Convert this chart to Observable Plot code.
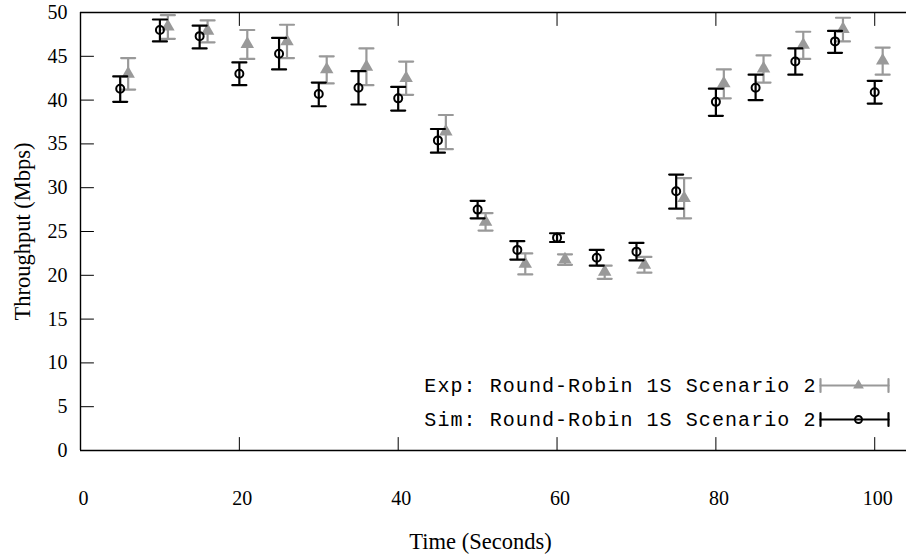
<!DOCTYPE html>
<html>
<head>
<meta charset="utf-8">
<script src="https://cdn.jsdelivr.net/npm/d3@7"></script>
<script src="https://cdn.jsdelivr.net/npm/@observablehq/plot@0.6"></script>
<style>
  html, body { margin: 0; padding: 0; background: #fff; }
  svg { display: block; }
</style>
</head>
<body>
<div id="chart"></div>
<script>
// Simulation: Round-Robin 1S Scenario 2 (x = 5..100)
const simTime = [5, 10, 15, 20, 25, 30, 35, 40, 45, 50, 55, 60, 65, 70, 75, 80, 85, 90, 95, 100];
const simValue = [41.3, 48.0, 47.3, 43.0, 45.3, 40.7, 41.4, 40.2, 35.4, 27.5, 22.9, 24.3, 22.0, 22.7, 29.6, 39.8, 41.4, 44.4, 46.7, 40.9];
const simLow   = [39.8, 46.7, 45.9, 41.7, 43.5, 39.3, 39.5, 38.8, 34.0, 26.5, 21.8, 23.8, 21.1, 21.7, 27.6, 38.2, 40.0, 42.9, 45.4, 39.6];
const simHigh  = [42.7, 49.2, 48.5, 44.3, 47.1, 42.0, 43.3, 41.5, 36.7, 28.5, 23.9, 24.8, 22.9, 23.7, 31.5, 41.3, 42.9, 45.9, 47.9, 42.2];

// Experiment: Round-Robin 1S Scenario 2 (x = 6..101)
const expTime = [6, 11, 16, 21, 26, 31, 36, 41, 46, 51, 56, 61, 66, 71, 76, 81, 86, 91, 96, 101];
const expValue = [43.0, 48.4, 47.9, 46.4, 46.7, 43.5, 43.8, 42.5, 36.4, 26.1, 21.3, 21.8, 20.4, 21.2, 28.8, 41.9, 43.6, 46.3, 48.1, 44.5];
const expLow   = [41.2, 47.0, 46.6, 44.7, 44.8, 41.9, 41.7, 40.6, 34.4, 25.1, 20.1, 21.2, 19.6, 20.3, 26.5, 40.2, 42.0, 44.7, 46.7, 42.9];
const expHigh  = [44.8, 49.7, 49.1, 48.0, 48.6, 45.0, 45.9, 44.4, 38.3, 27.1, 22.5, 22.4, 21.1, 22.1, 31.1, 43.5, 45.1, 47.8, 49.4, 46.0];

const xTicks = [0, 20, 40, 60, 80, 100];
const yTicks = [0, 5, 10, 15, 20, 25, 30, 35, 40, 45, 50];

const expLabel = "Exp: Round-Robin 1S Scenario 2";
const simLabel = "Sim: Round-Robin 1S Scenario 2";
const xLabel = "Time (Seconds)";
const yLabel = "Throughput (Mbps)";

const sim = simTime.map((t, i) => ({t, v: simValue[i], lo: simLow[i], hi: simHigh[i]}));
const exp = expTime.map((t, i) => ({t, v: expValue[i], lo: expLow[i], hi: expHigh[i]}));

const GRAY = "#999999";
const BLACK = "#000000";
const serif = "'Liberation Serif', 'Times New Roman', serif";
const mono = "'Liberation Mono', 'DejaVu Sans Mono', monospace";

// a straight line shape for vectors
const lineShape = { draw(ctx, l) { ctx.moveTo(0, 0); ctx.lineTo(0, -l); } };

function errorMarks(data, color) {
  return [
    Plot.ruleX(data, {x: "t", y1: "lo", y2: "hi", stroke: color, strokeWidth: 2.2}),
    Plot.vector(data, {x: "t", y: "lo", rotate: 90, length: 14, anchor: "middle", shape: lineShape, stroke: color, strokeWidth: 2.2}),
    Plot.vector(data, {x: "t", y: "hi", rotate: 90, length: 14, anchor: "middle", shape: lineShape, stroke: color, strokeWidth: 2.2})
  ];
}

function legendEntry(label, color, dy, markerOpts) {
  const base = {frameAnchor: "bottom-right", dy, shape: lineShape, stroke: color, strokeWidth: 2.2};
  return [
    Plot.text([label], {frameAnchor: "bottom-right", dx: -90, dy, text: d => d, textAnchor: "end", lineAnchor: "middle",
      fontFamily: mono, fontSize: 20, fill: BLACK}),
    Plot.vector([label], {...base, dx: -86, rotate: 90, length: 68, anchor: "start"}),
    Plot.vector([label], {...base, dx: -86, rotate: 0, length: 13, anchor: "middle"}),
    Plot.vector([label], {...base, dx: -18, rotate: 0, length: 13, anchor: "middle"}),
    Plot.dot([label], {frameAnchor: "bottom-right", dx: -48, dy, ...markerOpts})
  ];
}

const chart = Plot.plot({
  width: 906,
  height: 559,
  marginLeft: 80,
  marginRight: 0,
  marginTop: 12,
  marginBottom: 109,
  x: {domain: [0, 104], axis: null},
  y: {domain: [0, 50], axis: null},
  style: {background: "#fff", overflow: "visible"},
  marks: [
    // ticks (inward, mirrored)
    Plot.vector(xTicks.slice(1), {x: d => d, frameAnchor: "bottom", rotate: 0, length: 13, anchor: "start", shape: lineShape, stroke: BLACK, strokeWidth: 1}),
    Plot.vector(xTicks.slice(1), {x: d => d, frameAnchor: "top", rotate: 180, length: 13, anchor: "start", shape: lineShape, stroke: BLACK, strokeWidth: 1}),
    Plot.vector(yTicks.slice(1, -1), {y: d => d, frameAnchor: "left", rotate: 90, length: 13, anchor: "start", shape: lineShape, stroke: BLACK, strokeWidth: 1}),
    // frame (left, bottom, top; right edge lies outside the picture)
    Plot.ruleY([yTicks[0], yTicks[yTicks.length - 1]], {stroke: BLACK, strokeWidth: 1.4}),
    Plot.ruleX([xTicks[0]], {stroke: BLACK, strokeWidth: 1.4}),
    // tick labels
    Plot.text(xTicks, {x: d => d, frameAnchor: "bottom", dy: 48, dx: 3, text: d => String(d), fontFamily: serif, fontSize: 20, textAnchor: "middle", lineAnchor: "middle", fill: BLACK}),
    Plot.text(yTicks, {y: d => d, frameAnchor: "left", dx: -13, text: d => String(d), textAnchor: "end", fontFamily: serif, fontSize: 20, lineAnchor: "middle", fill: BLACK}),
    // axis titles
    Plot.text([xLabel], {frameAnchor: "bottom", dx: -13, dy: 91, text: d => d, fontFamily: serif, fontSize: 22.5, textAnchor: "middle", lineAnchor: "middle", fill: BLACK}),
    Plot.text([yLabel], {frameAnchor: "left", dx: -58, rotate: -90, text: d => d, fontFamily: serif, fontSize: 22.5, textAnchor: "middle", lineAnchor: "middle", fill: BLACK}),
    // experiment series
    ...errorMarks(exp, GRAY),
    Plot.dot(exp, {x: "t", y: "v", symbol: "triangle", r: 5, fill: GRAY, stroke: "none"}),
    // simulation series
    ...errorMarks(sim, BLACK),
    Plot.dot(sim, {x: "t", y: "v", symbol: "circle", r: 4, fill: "none", stroke: BLACK, strokeWidth: 2}),
    // legend
    ...legendEntry(expLabel, GRAY, -65, {symbol: "triangle", r: 4, fill: GRAY, stroke: "none"}),
    ...legendEntry(simLabel, BLACK, -31, {symbol: "circle", r: 3.5, fill: "none", stroke: BLACK, strokeWidth: 2})
  ]
});

// widen the typewriter legend text to match the reference's wider monospace face
d3.select(chart).selectAll("text")
  .filter(function() { return this.textContent === expLabel || this.textContent === simLabel; })
  .attr("letter-spacing", "1.07px");

document.getElementById("chart").appendChild(chart);
</script>
</body>
</html>
